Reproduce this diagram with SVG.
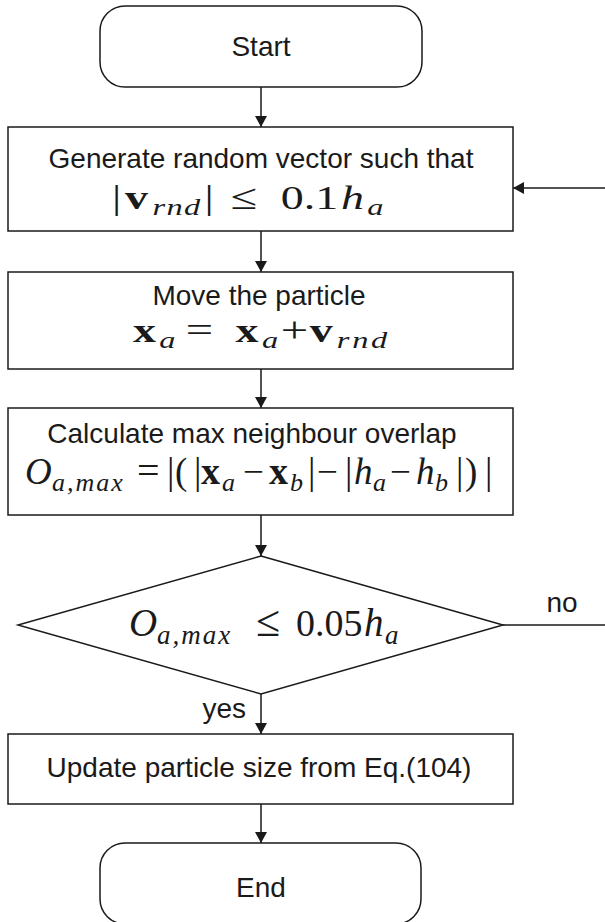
<svg xmlns="http://www.w3.org/2000/svg" width="605" height="922" viewBox="0 0 605 922">
<style>
.box{fill:#fff;stroke:#1a1a1a;stroke-width:1.5}
.conn{stroke:#1a1a1a;stroke-width:1.5;fill:none}
.lbl{font-family:"Liberation Sans",Arial,sans-serif;font-size:28px;fill:#1a1a1a}
.m{font-family:"Liberation Serif","Times New Roman",serif;fill:#1a1a1a}
.m1{font-size:34px}
.m1 .b{font-weight:bold;font-size:34px}
.m1 .s{font-size:24px;font-style:italic}
.m1 .op{font-size:36px}
.m2{font-size:37px}
.m2 .b{font-weight:bold;font-size:38px}
.m2 .s{font-size:26px;font-style:italic}
.m2 .op{font-size:40px}
.i{font-style:italic}
</style>
<defs>
<marker id="arr" markerUnits="userSpaceOnUse" markerWidth="12" markerHeight="12" refX="11" refY="6" orient="auto">
<path d="M0,0 L11,6 L0,12 z" fill="#1a1a1a"/>
</marker>
</defs>
<g id="connectors">
<path class="conn" d="M261,87 V127" marker-end="url(#arr)"/>
<path class="conn" d="M261,231 V272" marker-end="url(#arr)"/>
<path class="conn" d="M261,369 V408" marker-end="url(#arr)"/>
<path class="conn" d="M261,515 V556" marker-end="url(#arr)"/>
<path class="conn" d="M261,694 V734" marker-end="url(#arr)"/>
<path class="conn" d="M261,804 V843" marker-end="url(#arr)"/>
<path class="conn" d="M503,625 H605"/>
<path class="conn" d="M605,188 H513" marker-end="url(#arr)"/>
<text class="lbl" x="562" y="612" text-anchor="middle">no</text>
<text class="lbl" x="246" y="718" text-anchor="end">yes</text>
</g>
<g id="start">
<rect class="box" x="100" y="6" width="322" height="81" rx="25" ry="25"/>
<text class="lbl" x="261" y="56" text-anchor="middle">Start</text>
</g>
<g id="generate">
<rect class="box" x="8" y="127" width="505" height="104"/>
<text class="lbl" x="261" y="168" text-anchor="middle">Generate random vector such that</text>
<text class="m m1" transform="translate(112,0) scale(1.35,1)" y="209"><tspan x="0">|</tspan><tspan x="9.6" class="b">v</tspan><tspan x="30" y="215" class="s" style="letter-spacing:1px">rnd</tspan><tspan x="68.5" y="209">|</tspan><tspan x="88" class="op">≤</tspan><tspan x="125">0.1</tspan><tspan x="169.6" class="i">h</tspan><tspan x="189" y="215" class="s">a</tspan></text>
</g>
<g id="move">
<rect class="box" x="8" y="272" width="505" height="97"/>
<text class="lbl" x="259" y="305" text-anchor="middle">Move the particle</text>
<text class="m m1" transform="translate(133,0) scale(1.35,1)" y="342"><tspan x="0" class="b">x</tspan><tspan x="19.5" y="348" class="s">a</tspan><tspan x="39" y="342" class="op">=</tspan><tspan x="76" class="b">x</tspan><tspan x="95.5" y="348" class="s">a</tspan><tspan x="109.5" y="342" class="op">+</tspan><tspan x="131" class="b">v</tspan><tspan x="151" y="348" class="s" style="letter-spacing:2px">rnd</tspan></text>
</g>
<g id="calculate">
<rect class="box" x="8" y="408" width="505" height="107"/>
<text class="lbl" x="252" y="443" text-anchor="middle">Calculate max neighbour overlap</text>
<text class="m m2" y="484"><tspan x="25" class="i">O</tspan><tspan x="52" y="491" class="s" style="letter-spacing:2px">a,max</tspan><tspan x="137" y="484" class="op">=</tspan><tspan x="167">|</tspan><tspan x="175">(</tspan><tspan x="194">|</tspan><tspan x="201" class="b">x</tspan><tspan x="222" y="491" class="s">a</tspan><tspan x="243" y="484">−</tspan><tspan x="269" class="b">x</tspan><tspan x="290" y="491" class="s">b</tspan><tspan x="308" y="484">|</tspan><tspan x="317">−</tspan><tspan x="345">|</tspan><tspan x="354" class="i">h</tspan><tspan x="373" y="491" class="s">a</tspan><tspan x="390" y="484">−</tspan><tspan x="416" class="i">h</tspan><tspan x="435" y="491" class="s">b</tspan><tspan x="456" y="484">|</tspan><tspan x="465">)</tspan><tspan x="485">|</tspan></text>
</g>
<g id="decision">
<polygon class="box" points="261,556 503,625 261,694 18,625"/>
<text class="m m2" y="636"><tspan x="129" class="i" style="font-size:39px">O</tspan><tspan x="157" y="644" class="s" style="font-size:27px;letter-spacing:2px">a,max</tspan><tspan x="256" y="636" class="op" style="font-size:44px">≤</tspan><tspan x="296" style="font-size:38px">0.05</tspan><tspan x="364" class="i" style="font-size:39px">h</tspan><tspan x="385" y="644" class="s" style="font-size:27px">a</tspan></text>
</g>
<g id="update">
<rect class="box" x="8" y="734" width="505" height="70"/>
<text class="lbl" x="259" y="777" text-anchor="middle">Update particle size from Eq.(104)</text>
</g>
<g id="end">
<rect class="box" x="100" y="843" width="321" height="81" rx="25" ry="25"/>
<text class="lbl" x="261" y="897" text-anchor="middle">End</text>
</g>
</svg>
